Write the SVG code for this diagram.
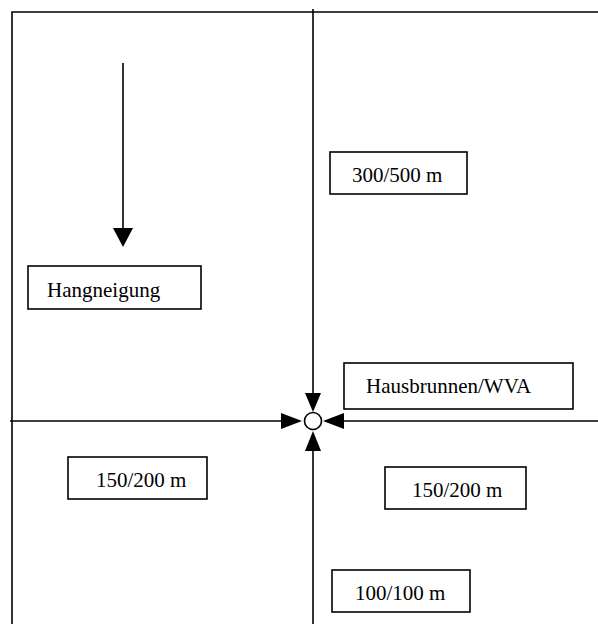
<svg xmlns="http://www.w3.org/2000/svg" width="598" height="624" viewBox="0 0 598 624">
<style>
.ln{stroke:#000;stroke-width:1.6;fill:none}
.box{fill:#fff;stroke:#000;stroke-width:1.6}
.t{font-family:"Liberation Serif","Times New Roman",serif;font-size:21px;fill:#000}
.ah{fill:#000}
</style>
<rect width="598" height="624" fill="#fff"/>
<g id="frame">
<path class="ln" d="M12,624 V12 H598" stroke-width="2"/>
</g>
<g id="connectors">
<line class="ln" x1="313" y1="9" x2="313" y2="396"/>
<polygon class="ah" points="305,393 321,393 313,412"/>
<line class="ln" x1="10" y1="421" x2="283" y2="421"/>
<polygon class="ah" points="281,413 281,429 302,421"/>
<line class="ln" x1="598" y1="421" x2="340" y2="421"/>
<polygon class="ah" points="344,413 344,429 323,421"/>
<line class="ln" x1="313" y1="624" x2="313" y2="448"/>
<polygon class="ah" points="305,451 321,451 313,431"/>
<line class="ln" x1="123" y1="63" x2="123" y2="230"/>
<polygon class="ah" points="113,228 133,228 123,247"/>
</g>
<g id="well">
<circle cx="313" cy="421" r="8.5" fill="#fff" stroke="#000" stroke-width="1.6"/>
</g>
<g id="hangneigung">
<rect class="box" x="28" y="266" width="173" height="43"/>
<text class="t" x="47" y="297">Hangneigung</text>
</g>
<g id="n300">
<rect class="box" x="330" y="152" width="137" height="42"/>
<text class="t" x="352" y="182">300/500 m</text>
</g>
<g id="hausbrunnen">
<rect class="box" x="344" y="363" width="229" height="46"/>
<text class="t" x="366" y="393">Hausbrunnen/WVA</text>
</g>
<g id="left150">
<rect class="box" x="68" y="457" width="139" height="42"/>
<text class="t" x="96" y="487">150/200 m</text>
</g>
<g id="right150">
<rect class="box" x="385" y="467" width="141" height="42"/>
<text class="t" x="412" y="497">150/200 m</text>
</g>
<g id="n100">
<rect class="box" x="332" y="570" width="138" height="42"/>
<text class="t" x="355" y="600">100/100 m</text>
</g>
</svg>
